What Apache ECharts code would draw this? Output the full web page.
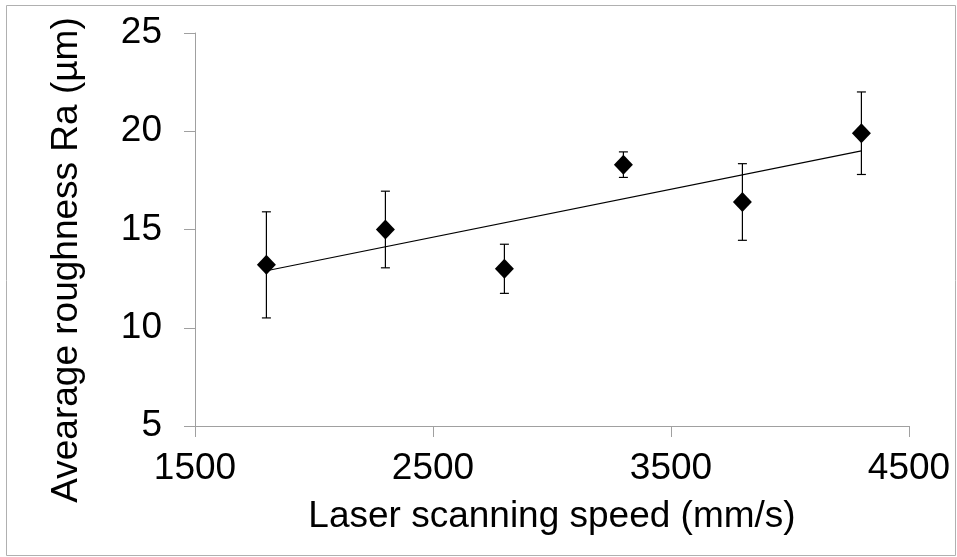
<!DOCTYPE html>
<html>
<head>
<meta charset="utf-8">
<style>
  html, body { margin: 0; padding: 0; background: #ffffff; }
  #chart { width: 957px; height: 557px; }
</style>
<script src="https://cdn.jsdelivr.net/npm/echarts@6/dist/echarts.min.js"></script>
</head>
<body>
<div id="chart"></div>
<script>
// Laser scanning speed (mm/s)
const speeds = [1800, 2300, 2800, 3300, 3800, 4300];
// Average roughness Ra (µm)
const roughness = [13.2, 15.0, 13.0, 18.3, 16.4, 19.9];
// Error bar half-lengths (µm)
const errors = [2.7, 1.95, 1.25, 0.65, 1.95, 2.1];
// Linear trend line end points
const trendX = [1800, 4300];
const trendY = [12.9, 19.0];
// Axis ticks
const xTicks = [1500, 2500, 3500, 4500];
const yTicks = [5, 10, 15, 20, 25];

const FONT = 'Liberation Sans, Arial, sans-serif';
const AXIS_GRAY = '#a0a0a0';

const points = speeds.map((x, i) => [x, roughness[i]]);
const errData = speeds.map((x, i) => [x, roughness[i] - errors[i], roughness[i] + errors[i]]);
const trendData = trendX.map((x, i) => [x, trendY[i]]);

const chart = echarts.init(document.getElementById('chart'), null, { renderer: 'canvas' });

chart.setOption({
  backgroundColor: '#ffffff',
  animation: false,
  grid: { left: 195, top: 33, width: 714, height: 393, containLabel: false },
  xAxis: {
    type: 'value',
    min: xTicks[0],
    max: xTicks[xTicks.length - 1],
    interval: 1000,
    name: 'Laser scanning speed (mm/s)',
    nameLocation: 'middle',
    nameGap: 72,
    nameTextStyle: { fontFamily: FONT, fontSize: 37, color: '#000' },
    axisLine: { show: true, lineStyle: { color: AXIS_GRAY, width: 1 } },
    axisTick: { show: true, length: 11, lineStyle: { color: AXIS_GRAY, width: 1 } },
    axisLabel: {
      fontFamily: FONT, fontSize: 37, color: '#000', margin: 24,
      formatter: function (v) { return String(v); }
    },
    splitLine: { show: false }
  },
  yAxis: {
    type: 'value',
    min: yTicks[0],
    max: yTicks[yTicks.length - 1],
    interval: 5,
    axisLine: { show: true, lineStyle: { color: AXIS_GRAY, width: 1 } },
    axisTick: { show: true, length: 11, lineStyle: { color: AXIS_GRAY, width: 1 } },
    axisLabel: {
      fontFamily: FONT, fontSize: 37, color: '#000', margin: 33,
      formatter: function (v) { return String(v); }
    },
    splitLine: { show: false }
  },
  graphic: [
    {
      type: 'rect',
      silent: true,
      shape: { x: 6.5, y: 5.5, width: 949, height: 550 },
      style: { fill: 'none', stroke: '#b0b0b0', lineWidth: 1 }
    },
    {
      type: 'text',
      x: 67,
      y: 260,
      rotation: Math.PI / 2,
      style: {
        text: 'Avearage roughness Ra (µm)',
        font: '37px ' + FONT,
        fill: '#000',
        textAlign: 'center',
        textVerticalAlign: 'middle'
      }
    }
  ],
  series: [
    {
      type: 'line',
      data: trendData,
      showSymbol: false,
      symbol: 'none',
      lineStyle: { color: '#000', width: 1.2 },
      z: 2
    },
    {
      type: 'custom',
      data: errData,
      z: 3,
      renderItem: function (params, api) {
        const x = api.value(0);
        const lo = api.coord([x, api.value(1)]);
        const hi = api.coord([x, api.value(2)]);
        const cap = 4.5;
        const style = { stroke: '#000', lineWidth: 1.2 };
        return {
          type: 'group',
          children: [
            { type: 'line', shape: { x1: lo[0], y1: lo[1], x2: hi[0], y2: hi[1] }, style: style },
            { type: 'line', shape: { x1: hi[0] - cap, y1: hi[1], x2: hi[0] + cap, y2: hi[1] }, style: style },
            { type: 'line', shape: { x1: lo[0] - cap, y1: lo[1], x2: lo[0] + cap, y2: lo[1] }, style: style }
          ]
        };
      }
    },
    {
      type: 'scatter',
      data: points,
      symbol: 'diamond',
      symbolSize: [19, 20],
      itemStyle: { color: '#000', opacity: 1 },
      z: 4
    }
  ]
});
</script>
</body>
</html>
